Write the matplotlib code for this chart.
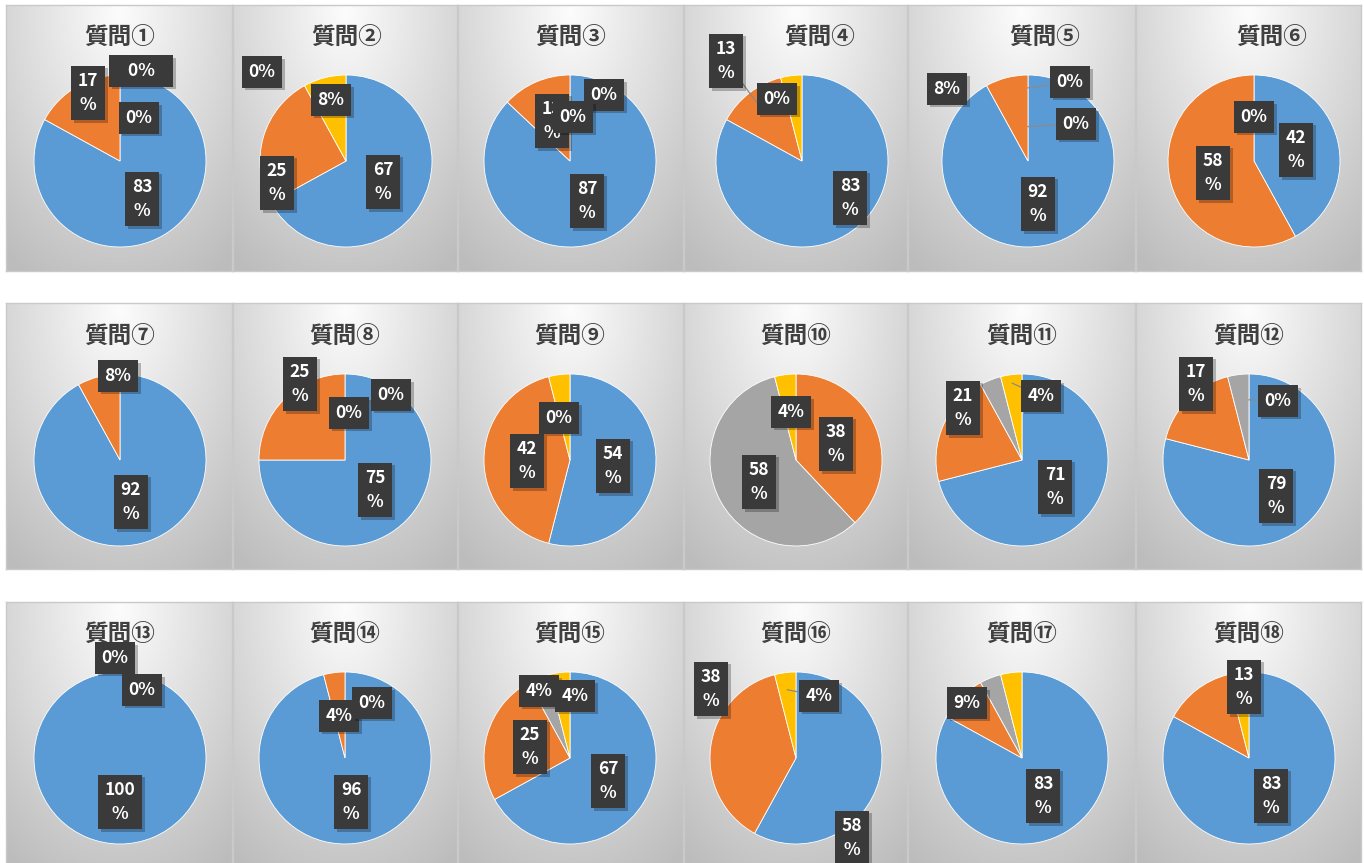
import numpy as np
import matplotlib
matplotlib.use("Agg")
import matplotlib.pyplot as plt
from matplotlib import patheffects as pe

# ---------------- data ----------------
titles = ["質問" + c for c in "①②③④⑤⑥⑦⑧⑨⑩⑪⑫⑬⑭⑮⑯⑰⑱"]
blue   = [83, 67, 87, 83, 92, 42, 92, 75, 54, 0, 71, 79, 100, 96, 67, 58, 83, 83]
orange = [17, 25, 13, 13, 8, 58, 8, 25, 42, 38, 21, 17, 0, 4, 25, 38, 9, 13]
gray   = [0, 0, 0, 0, 0, 0, 0, 0, 0, 58, 4, 4, 0, 0, 4, 0, 4, 0]
yellow = [0, 8, 0, 4, 0, 0, 0, 0, 4, 4, 4, 0, 0, 0, 4, 4, 4, 4]
colors = ["#5B9BD5", "#ED7D31", "#A5A5A5", "#FFC000"]

# which slice each shown data label belongs to (0 blue, 1 orange, 2 gray, 3 yellow)
label_slices = [
    [1, 3, 2, 0], [2, 3, 1, 0], [1, 3, 2, 0], [1, 2, 0], [1, 2, 3, 0], [2, 0, 1],
    [1, 0], [1, 2, 3, 0], [2, 1, 0], [3, 1, 2], [1, 3, 0], [1, 3, 0],
    [1, 2, 0], [1, 2, 0], [2, 3, 1, 0], [1, 3, 0], [1, 0], [1, 0],
]

# ---------------- layout (pixels) ----------------
W, H = 1364, 863
R = 86.0
col_edges = [6, 232, 457, 683, 907, 1135, 1361]
row_edges = [(5, 271), (303, 569), (602, 870)]
col_cx = [120, 345, 570, 796, 1022, 1249]
row_cy = [161, 460, 758]
pie_dx = [0, 1, 0, 6, 6, 5] + [0] * 12
title_dx = [0, 2, 1, 24, 23, 23] + [0] * 12
title_dy = -124

# label centre offsets from pie centre (px, y downward)
label_pos = [
    [(-32, -68), (21, -90), (19, -43), (22, 38)],
    [(-84, -89), (-15, -61), (-69, 22), (37, 21)],
    [(-18, -40), (34, -66), (3, -44), (17, 40)],
    [(-76, -100), (-25, -62), (48, 37)],
    [(-81, -72), (42, -79), (48, -37), (10, 43)],
    [(0, -44), (42, -11), (-41, 12)],
    [(-2, -84), (11, 42)],
    [(-45, -76), (4, -47), (46, -65), (30, 30)],
    [(-11, -42), (-43, 1), (43, 6)],
    [(-5, -48), (40, -16), (-37, 22)],
    [(-59, -52), (19, -64), (33, 27)],
    [(-53, -76), (29, -59), (27, 36)],
    [(-5, -100), (22, -68), (0, 44)],
    [(-6, -42), (27, -55), (6, 44)],
    [(-31, -67), (5, -62), (-40, -11), (38, 23)],
    [(-85, -69), (23, -62), (56, 80)],
    [(-55, -55), (21, 38)],
    [(-5, -71), (22, 38)],
]
# wide label box in 質問① (question, label index) -> extra horizontal pad
wide_labels = {(0, 1): "   "}
# leader lines: (question, label index) -> start radius on slice mid-angle
leaders = {(3, 0): 0.85, (4, 1): 0.85, (4, 2): 0.4, (7, 2): 0.6,
           (11, 1): 0.7, (15, 1): 0.8, (10, 1): 0.9}

fig = plt.figure(figsize=(W / 100, H / 100), dpi=100)
fig.patch.set_facecolor("white")


def rect(x0, y0, x1, y1):
    return [x0 / W, 1 - y1 / H, (x1 - x0) / W, (y1 - y0) / H]


def gradient(h, w):
    u = np.linspace(0, 1, w)[None, :]
    v = np.linspace(0, 1, h)[:, None]
    d = np.sqrt(((u - 0.5) / 0.75) ** 2 + ((v - 0.02) / 1.0) ** 2)
    val = np.clip(0.99 - 0.22 * d, 0.74, 1.0)
    return np.dstack([val, val, val])


grad = gradient(120, 100)
CJK = ["Noto Sans CJK JP", "DejaVu Sans"]

for i in range(18):
    r, c = divmod(i, 6)
    x0 = col_edges[c] + (1 if c > 0 else 0)
    x1 = col_edges[c + 1]
    y0, y1 = row_edges[r]
    cx = col_cx[c] + pie_dx[i]
    cy = row_cy[r]

    bg = fig.add_axes(rect(x0, y0, x1, y1))
    bg.imshow(grad, extent=(0, 1, 0, 1), aspect="auto", interpolation="bilinear")
    bg.set_xlim(0, 1)
    bg.set_ylim(0, 1)
    bg.set_xticks([])
    bg.set_yticks([])
    for s in bg.spines.values():
        s.set_color("#c9c9c9")
        s.set_linewidth(1.0)

    ax = fig.add_axes(rect(x0, y0, x1, y1), facecolor="none")
    vals = [blue[i], orange[i], gray[i], yellow[i]]
    wedges, _ = ax.pie(vals, colors=colors, startangle=90, counterclock=False,
                       radius=1.0, center=(0, 0),
                       wedgeprops=dict(edgecolor="white", linewidth=0.6))
    for w, v in zip(wedges, vals):
        if v == 0:
            w.set_visible(False)
    ax.set_aspect("auto")
    ax.set_xlim((x0 - cx) / R, (x1 - cx) / R)
    ax.set_ylim((cy - y1) / R, (cy - y0) / R)
    ax.axis("off")

    # title
    ax.text((col_cx[c] + title_dx[i] - cx) / R, -title_dy / R, titles[i],
            ha="center", va="center", fontsize=17, fontweight="bold",
            color="#404040", family=CJK)

    # mid angles
    total = float(sum(vals))
    cum = np.cumsum([0] + vals)
    mids = [np.deg2rad(90 - 360 * (cum[k] + vals[k] / 2) / total) for k in range(4)]

    for j, (sidx, (dx, dy)) in enumerate(zip(label_slices[i], label_pos[i])):
        v = vals[sidx]
        txt = f"{v}\n%" if v >= 10 else f"{v}%"
        if (i, j) in wide_labels:
            sp = wide_labels[(i, j)]
            txt = sp + txt + sp
        lx, ly = dx / R, -dy / R
        if (i, j) in leaders:
            rs = leaders[(i, j)]
            sx, sy = rs * np.cos(mids[sidx]), rs * np.sin(mids[sidx])
            ax.plot([sx, lx], [sy, ly], color="#8a8a8a", lw=0.9, zorder=4,
                    clip_on=False)
        t = ax.text(lx, ly, txt, ha="center", va="center", fontsize=12.5,
                    fontweight="bold", color="white", family=CJK,
                    linespacing=1.4, zorder=5,
                    bbox=dict(boxstyle="square,pad=0.38", fc="#3a3a3a",
                              ec="none"))
        t.get_bbox_patch().set_path_effects(
            [pe.SimplePatchShadow(offset=(2, -2), shadow_rgbFace="#000000",
                                  alpha=0.25), pe.Normal()])

fig.savefig("out.png", dpi=100, facecolor="white")
